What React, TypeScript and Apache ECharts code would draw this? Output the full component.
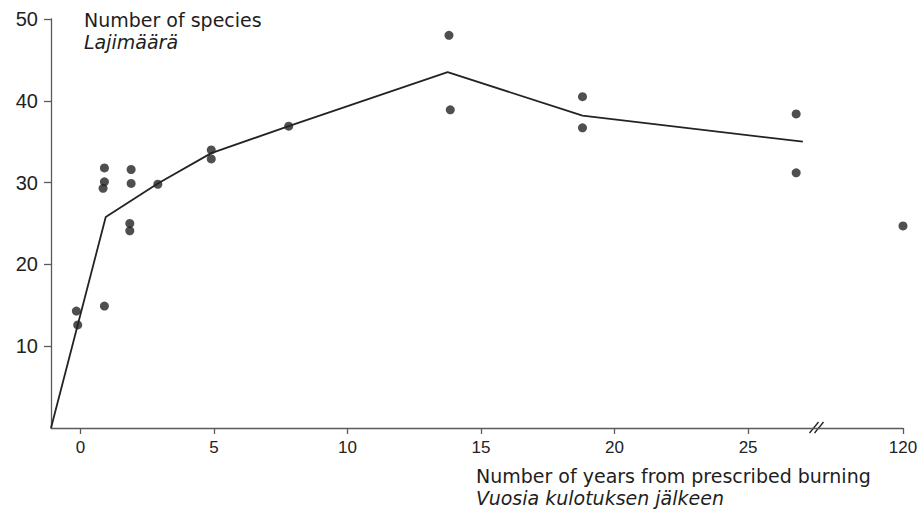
import React, { useEffect, useRef } from "react";
import * as echarts from "echarts";

// Axis ticks (the last x tick, 120, sits after the axis break)
const xTickLabels = [0, 5, 10, 15, 20, 25, 120];
const yTickLabels = [10, 20, 30, 40, 50];
const BREAK_AT = 27.6; // where the "//" break sits on the compressed axis
const POS_120 = 30.8; // axis position used for year 120

// Observed points: years since burning, number of species
const pointYears = [-0.15, -0.1, 0.9, 0.9, 0.85, 0.9, 1.9, 1.9, 1.85, 1.85, 2.9, 4.9, 4.9, 7.8, 13.8, 13.85, 18.8, 18.8, 26.8, 26.8, 120];
const pointSpecies = [14.3, 12.6, 31.8, 30.1, 29.3, 14.9, 31.6, 29.9, 25.0, 24.1, 29.8, 34.0, 32.9, 36.9, 48.0, 38.9, 40.5, 36.7, 38.4, 31.2, 24.7];

// Mean curve
const lineYears = [-1.1, 0.95, 2.9, 4.9, 7.8, 13.75, 18.8, 27.05];
const lineSpecies = [0, 25.8, 29.9, 33.6, 36.9, 43.5, 38.2, 35.0];

const toAxis = (yr: number) => (yr >= 100 ? POS_120 + (yr - 120) : yr);
const fromAxis = (v: number) => (Math.abs(v - POS_120) < 0.01 ? 120 : Math.round(v));

const INK = "#232323";
const AXIS = "#5a5a5a";
const FONT = "Liberation Sans, Arial, sans-serif";
const TITLE_FONT = "DejaVu Sans, sans-serif";

export default function App() {
  const ref = useRef<HTMLDivElement>(null);

  useEffect(() => {
    if (!ref.current) return;
    const chart = echarts.init(ref.current, undefined, { renderer: "svg" });
    const xTickPos = xTickLabels.map(toAxis);

    chart.setOption({
      animation: false,
      backgroundColor: "#ffffff",
      grid: { left: 51, right: 20, top: 19, bottom: 82, containLabel: false },
      xAxis: {
        type: "value",
        min: -1.1,
        max: POS_120,
        axisLine: { show: true, onZero: false, lineStyle: { color: AXIS, width: 1.3 } },
        axisTick: { show: true, customValues: xTickPos, length: 6, lineStyle: { color: AXIS, width: 1.3 } },
        axisLabel: {
          show: true,
          customValues: xTickPos,
          formatter: (v: number) => String(fromAxis(v)),
          fontSize: 17,
          margin: 11,
          color: "#222",
          fontFamily: FONT,
        },
        splitLine: { show: false },
      },
      yAxis: {
        type: "value",
        min: 0,
        max: 50,
        axisLine: { show: true, onZero: false, lineStyle: { color: AXIS, width: 1.3 } },
        axisTick: { show: true, customValues: yTickLabels, length: 7, lineStyle: { color: AXIS, width: 1.3 } },
        axisLabel: {
          show: true,
          customValues: yTickLabels,
          fontSize: 20,
          margin: 13,
          color: "#222",
          fontFamily: FONT,
        },
        splitLine: { show: false },
      },
      series: [
        {
          type: "line",
          data: lineYears.map((x, i) => [toAxis(x), lineSpecies[i]]),
          showSymbol: false,
          symbol: "none",
          lineStyle: { color: INK, width: 1.8 },
          z: 2,
        },
        {
          type: "scatter",
          data: pointYears.map((x, i) => [toAxis(x), pointSpecies[i]]),
          symbol: "circle",
          symbolSize: 9,
          itemStyle: { color: INK },
          z: 3,
        },
      ],
    });

    const [bx, by] = chart.convertToPixel({ xAxisIndex: 0, yAxisIndex: 0 }, [BREAK_AT, 0]) as number[];
    const slash = { stroke: INK, lineWidth: 1.3 };
    const textBase = (text: string, x: number, y: number, italic = false) => ({
      type: "text",
      x,
      y,
      style: {
        text,
        fill: "#1e1e1e",
        font: `${italic ? "italic " : ""}19px ${TITLE_FONT}`,
        textAlign: "left",
        textVerticalAlign: "middle",
        align: "left",
        verticalAlign: "middle",
      },
    });

    chart.setOption({
      graphic: [
        { type: "line", shape: { x1: bx - 8, y1: by + 5, x2: bx + 1, y2: by - 6 }, style: slash },
        { type: "line", shape: { x1: bx - 3, y1: by + 5, x2: bx + 6, y2: by - 6 }, style: slash },
        textBase("Number of species", 84, 20),
        textBase("Lajimäärä", 84, 42, true),
        textBase("Number of years from prescribed burning", 476, 476),
        textBase("Vuosia kulotuksen jälkeen", 476, 497.5, true),
      ],
    });

    return () => chart.dispose();
  }, []);

  return (
    <div
      ref={ref}
      style={{ position: "fixed", left: 0, top: 0, width: 923, height: 510, background: "#fff" }}
    />
  );
}
